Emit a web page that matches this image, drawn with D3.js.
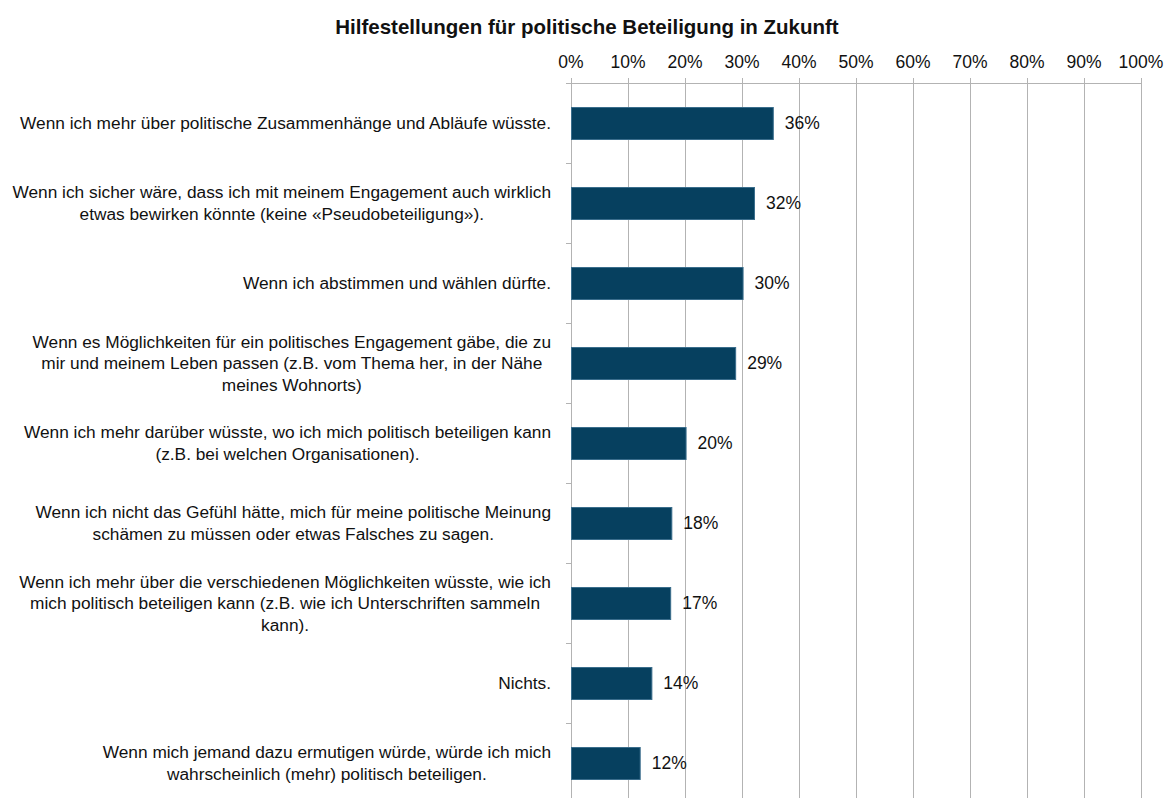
<!DOCTYPE html>
<html>
<head>
<meta charset="utf-8">
<script src="https://cdn.jsdelivr.net/npm/d3@7"></script>
<style>
  html, body { margin: 0; padding: 0; background: #fff; }
  svg { display: block; font-family: "Liberation Sans", Arial, sans-serif; }
</style>
</head>
<body>
<div id="chart"></div>
<script>
// chart data
const title = "Hilfestellungen für politische Beteiligung in Zukunft";
const categories = [
    ["Wenn ich mehr über politische Zusammenhänge und Abläufe wüsste."],
    ["Wenn ich sicher wäre, dass ich mit meinem Engagement auch wirklich", "etwas bewirken könnte (keine «Pseudobeteiligung»)."],
    ["Wenn ich abstimmen und wählen dürfte."],
    ["Wenn es Möglichkeiten für ein politisches Engagement gäbe, die zu", "mir und meinem Leben passen (z.B. vom Thema her, in der Nähe", "meines Wohnorts)"],
    ["Wenn ich mehr darüber wüsste, wo ich mich politisch beteiligen kann", "(z.B. bei welchen Organisationen)."],
    ["Wenn ich nicht das Gefühl hätte, mich für meine politische Meinung", "schämen zu müssen oder etwas Falsches zu sagen."],
    ["Wenn ich mehr über die verschiedenen Möglichkeiten wüsste, wie ich", "mich politisch beteiligen kann (z.B. wie ich Unterschriften sammeln", "kann)."],
    ["Nichts."],
    ["Wenn mich jemand dazu ermutigen würde, würde ich mich", "wahrscheinlich (mehr) politisch beteiligen."]
];
const values = [35.4, 32.1, 30.1, 28.8, 20.1, 17.6, 17.4, 14.1, 12.05];
const valueLabels = ["36%", "32%", "30%", "29%", "20%", "18%", "17%", "14%", "12%"];
const ticks = [0, 10, 20, 30, 40, 50, 60, 70, 80, 90, 100];

const W = 1164, H = 798;
const margin = {top: 83, left: 571, right: 23};
const bandH = 80;

const svg = d3.select("#chart")
    .append("svg")
    .attr("width", W)
    .attr("height", H);

const x = d3.scaleLinear()
    .domain([0, 100])
    .range([margin.left, W - margin.right]);

const y = d3.scaleBand()
    .domain(d3.range(categories.length))
    .range([margin.top, margin.top + bandH * categories.length])
    .paddingInner(0.6)
    .paddingOuter(0.3);

// title
svg.append("text")
    .attr("x", 587)
    .attr("y", 34)
    .attr("text-anchor", "middle")
    .style("font-size", "20.5px")
    .style("font-weight", "bold")
    .attr("fill", "#111")
    .text(title);

// gridlines + top axis
const grid = svg.append("g");
grid.selectAll("line")
    .data(ticks)
    .enter()
    .append("line")
    .attr("x1", d => x(d) + 0.5)
    .attr("x2", d => x(d) + 0.5)
    .attr("y1", margin.top - 5)
    .attr("y2", H)
    .attr("stroke", "#b3b3b3")
    .attr("stroke-width", 1);

grid.append("line")
    .attr("x1", x(0))
    .attr("x2", x(100) + 1)
    .attr("y1", margin.top + 0.5)
    .attr("y2", margin.top + 0.5)
    .attr("stroke", "#b3b3b3");

svg.append("g")
    .selectAll("text")
    .data(ticks)
    .enter()
    .append("text")
    .attr("x", d => x(d))
    .attr("y", 68)
    .attr("text-anchor", "middle")
    .style("font-size", "17.5px")
    .attr("fill", "#111")
    .text(d => d + "%");

// left axis ticks between categories
svg.append("g")
    .selectAll("line")
    .data(d3.range(categories.length + 1))
    .enter()
    .append("line")
    .attr("x1", x(0) - 5)
    .attr("x2", x(0))
    .attr("y1", d => margin.top + d * bandH + 0.5)
    .attr("y2", d => margin.top + d * bandH + 0.5)
    .attr("stroke", "#b3b3b3");

// bars
svg.append("g")
    .selectAll("rect")
    .data(values)
    .enter()
    .append("rect")
    .attr("x", x(0) + 0.5)
    .attr("y", (d, i) => y(i) + 0.5)
    .attr("width", d => x(d) - x(0))
    .attr("height", y.bandwidth())
    .attr("fill", "#06405f")
    .attr("stroke", "#3a6d8c")
    .attr("stroke-width", 1);

// value labels
svg.append("g")
    .selectAll("text")
    .data(values)
    .enter()
    .append("text")
    .attr("x", d => x(d) + 12)
    .attr("y", (d, i) => y(i) + y.bandwidth() / 2)
    .attr("dy", "0.35em")
    .style("font-size", "17.5px")
    .attr("fill", "#111")
    .text((d, i) => valueLabels[i]);

// category labels, centred block whose right edge sits left of the axis
const lineH = 21.5;
const labelRight = 551;
categories.forEach((lines, i) => {
    const g = svg.append("text")
        .attr("text-anchor", "middle")
        .style("font-size", "17.3px")
        .attr("fill", "#111");
    const cy = y(i) + y.bandwidth() / 2;
    const spans = lines.map((t, k) => g.append("tspan")
        .attr("y", cy + (k - (lines.length - 1) / 2) * lineH)
        .attr("dy", "0.35em")
        .text(t));
    const maxW = d3.max(spans, s => s.node().getComputedTextLength());
    spans.forEach(s => s.attr("x", labelRight - maxW / 2));
});
</script>
</body>
</html>
